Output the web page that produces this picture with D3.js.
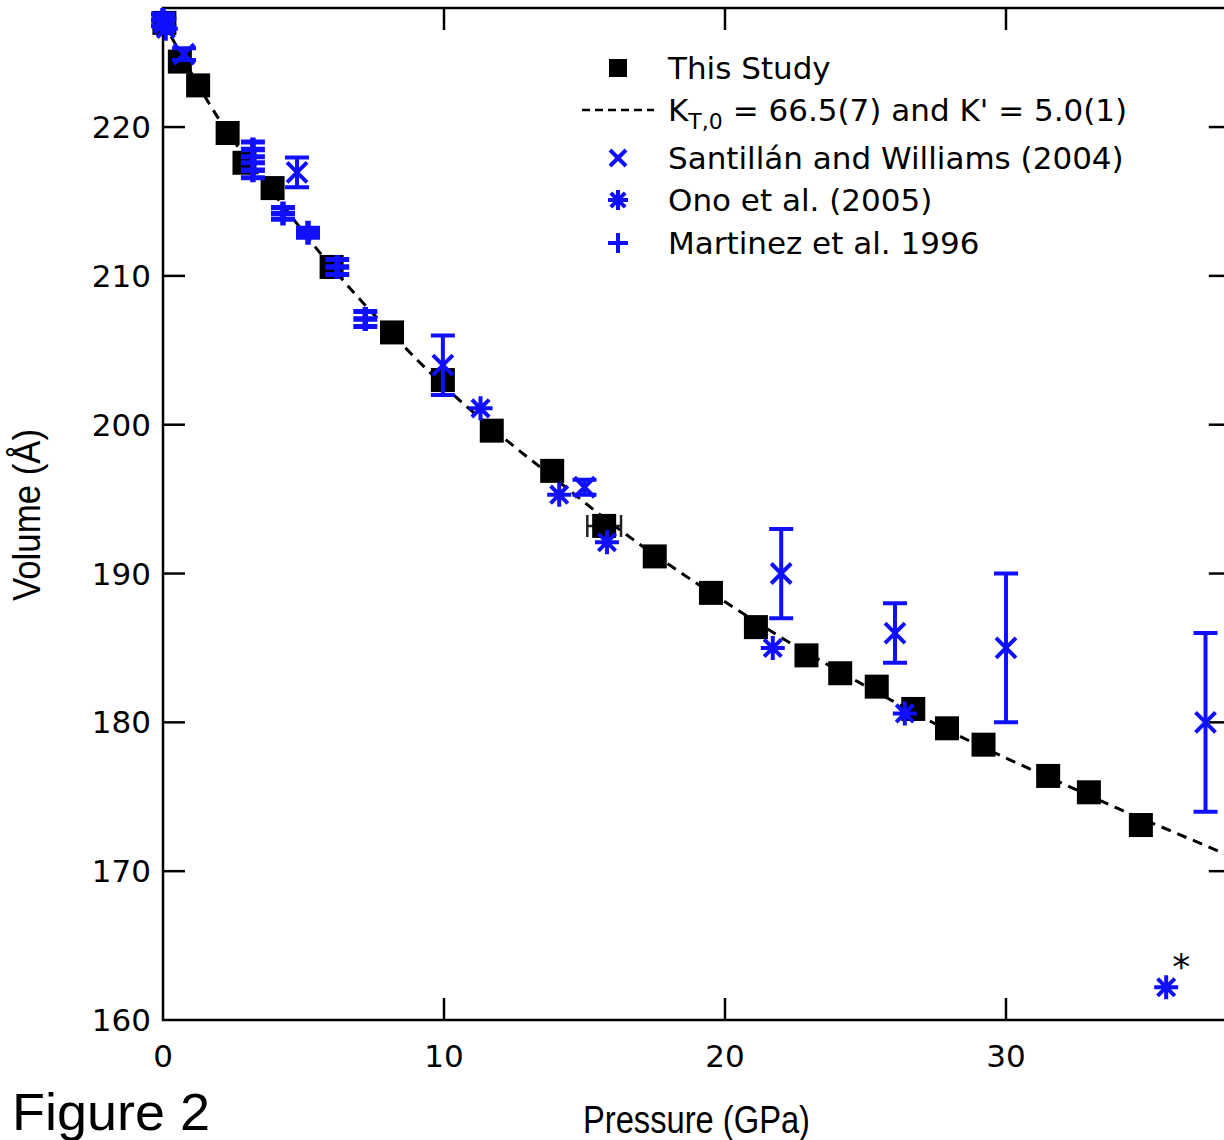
<!DOCTYPE html>
<html>
<head>
<meta charset="utf-8">
<script src="https://cdn.jsdelivr.net/npm/d3@7"></script>
<style>
  body { margin: 0; background: #fff; }
  svg { display: block; }
</style>
</head>
<body>
<div class="chart"></div>
<script>
var svgWidth = 1224;
var svgHeight = 1140;

// This study (black squares)
var studyP = [0.05, 0.6, 1.25, 2.3, 2.9, 3.9, 6.0, 8.15, 9.96, 11.7, 13.85, 15.7, 17.5, 19.5, 21.1, 22.9, 24.1, 25.4, 26.7, 27.9, 29.2, 31.5, 32.95, 34.8];
var studyV = [227.0, 224.4, 222.8, 219.6, 217.6, 215.9, 210.6, 206.2, 203.0, 199.6, 196.9, 193.2, 191.15, 188.7, 186.4, 184.5, 183.3, 182.4, 180.9, 179.6, 178.5, 176.4, 175.3, 173.1];
var studyPErr = [0, 0, 0, 0, 0, 0, 0, 0, 0, 0, 0, 0.6, 0, 0, 0, 0, 0, 0, 0, 0, 0, 0, 0, 0];

// Fit curve
var fitP = [0, 2, 4, 6, 8, 10, 12, 14, 16, 18, 20, 22, 24, 26, 28, 30, 32, 34, 36, 38];
var fitV = [227.1, 220.5, 215.4, 210.6, 206.4, 202.6, 199.3, 196.3, 193.3, 190.6, 188.1, 185.7, 183.5, 181.4, 179.4, 177.6, 175.9, 174.2, 172.6, 171.0];

// Santillan and Williams (2004)
var santP = [0.05, 0.75, 4.77, 9.96, 15.0, 22.0, 26.05, 30.0, 37.1];
var santV = [227.0, 224.9, 216.95, 204.0, 195.8, 190.0, 186.0, 185.0, 180.0];
var santErr = [0.3, 0.4, 1.0, 2.0, 0.5, 3.0, 2.0, 5.0, 6.0];

// Ono et al. (2005)
var onoP = [0.1, 11.3, 14.1, 15.8, 21.7, 26.4, 35.7];
var onoV = [226.6, 201.1, 195.3, 192.1, 185.0, 180.6, 162.2];

// Martinez et al. 1996
var martP = [0.0, 3.2, 3.2, 4.27, 5.16, 6.2, 7.2];
var martV = [227.2, 218.5, 217.1, 214.2, 212.9, 210.6, 207.1];
var martErr = [0.4, 0.5, 0.5, 0.4, 0.3, 0.5, 0.5];

var xTicks = [0, 10, 20, 30];
var yTicks = [160, 170, 180, 190, 200, 210, 220];

var legendLabels = ["This Study", "fit", "Santillán and Williams (2004)", "Ono et al. (2005)", "Martinez et al. 1996"];

var blue = "#1010ff";

var svg = d3.select(".chart")
  .append("svg")
  .attr("width", svgWidth)
  .attr("height", svgHeight);

var x = d3.scaleLinear().domain([0, 38]).range([163, 163 + 38 * 28.1]);
var y = d3.scaleLinear().domain([160, 228]).range([1020, 8]);

// frame
var frame = svg.append("g").attr("stroke", "#000").attr("stroke-width", 2.5).attr("fill", "none");
frame.append("rect")
  .attr("x", x(0)).attr("y", y(228))
  .attr("width", x(38) - x(0)).attr("height", y(160) - y(228));

// ticks (inside)
xTicks.forEach(function(t) {
  if (t === 0) return;
  frame.append("line").attr("x1", x(t)).attr("x2", x(t)).attr("y1", y(160)).attr("y2", y(160) - 22);
  frame.append("line").attr("x1", x(t)).attr("x2", x(t)).attr("y1", y(228)).attr("y2", y(228) + 22);
});
yTicks.forEach(function(t) {
  if (t === 160) return;
  frame.append("line").attr("x1", x(0)).attr("x2", x(0) + 22).attr("y1", y(t)).attr("y2", y(t));
  frame.append("line").attr("x1", x(38)).attr("x2", x(38) - 22).attr("y1", y(t)).attr("y2", y(t));
});

// tick labels
svg.selectAll(".xlab").data(xTicks).enter().append("text")
  .attr("x", d => x(d)).attr("y", 1067)
  .attr("text-anchor", "middle")
  .style("font-family", "DejaVu Sans")
  .style("font-size", "31px")
  .text(d => d);

svg.selectAll(".ylab").data(yTicks).enter().append("text")
  .attr("x", 151).attr("y", d => y(d) + 11)
  .attr("text-anchor", "end")
  .style("font-family", "DejaVu Sans")
  .style("font-size", "31px")
  .text(d => d);

// axis titles
svg.append("text")
  .attr("transform", "translate(40, 515) rotate(-90)")
  .attr("text-anchor", "middle")
  .attr("textLength", 172)
  .attr("lengthAdjust", "spacingAndGlyphs")
  .style("font-family", "Liberation Sans")
  .style("font-size", "38px")
  .text("Volume (Å)");

svg.append("text")
  .attr("x", 583).attr("y", 1133)
  .attr("textLength", 227)
  .attr("lengthAdjust", "spacingAndGlyphs")
  .style("font-family", "Liberation Sans")
  .style("font-size", "38px")
  .text("Pressure (GPa)");

svg.append("text")
  .attr("x", 12).attr("y", 1130)
  .attr("textLength", 198)
  .attr("lengthAdjust", "spacingAndGlyphs")
  .style("font-family", "Liberation Sans")
  .style("font-size", "52px")
  .text("Figure 2");

// fit line
var line = d3.line().x((d, i) => x(fitP[i])).y(d => y(d)).curve(d3.curveMonotoneX);
svg.append("path")
  .attr("d", line(fitV))
  .attr("fill", "none")
  .attr("stroke", "#000")
  .attr("stroke-width", 3)
  .attr("stroke-dasharray", "10,7");

// marker helpers
function cross(g, cx, cy, r, sw) {
  g.append("path")
    .attr("d", `M${cx - r},${cy - r}L${cx + r},${cy + r}M${cx - r},${cy + r}L${cx + r},${cy - r}`)
    .attr("stroke", blue).attr("stroke-width", sw).attr("fill", "none");
}
function plus(g, cx, cy, r, sw) {
  g.append("path")
    .attr("d", `M${cx - r},${cy}L${cx + r},${cy}M${cx},${cy - r}L${cx},${cy + r}`)
    .attr("stroke", blue).attr("stroke-width", sw).attr("fill", "none");
}
function star(g, cx, cy, r, sw) {
  var d = r * 0.72;
  g.append("path")
    .attr("d", `M${cx},${cy - r}L${cx},${cy + r}M${cx - r},${cy}L${cx + r},${cy}` +
               `M${cx - d},${cy - d}L${cx + d},${cy + d}M${cx - d},${cy + d}L${cx + d},${cy - d}`)
    .attr("stroke", blue).attr("stroke-width", sw).attr("fill", "none");
}
function vbar(g, cx, v, e, color, sw) {
  var y0 = y(v - e), y1 = y(v + e);
  g.append("path")
    .attr("d", `M${cx},${y0}L${cx},${y1}M${cx - 12},${y0}L${cx + 12},${y0}M${cx - 12},${y1}L${cx + 12},${y1}`)
    .attr("stroke", color).attr("stroke-width", sw).attr("fill", "none");
}

var marks = svg.append("g");

// black squares + horizontal error bar
studyP.forEach(function(p, i) {
  if (studyPErr[i] > 0) {
    var x0 = x(p - studyPErr[i]), x1 = x(p + studyPErr[i]), cy = y(studyV[i]);
    marks.append("path")
      .attr("d", `M${x0},${cy}L${x1},${cy}M${x0},${cy - 11}L${x0},${cy + 11}M${x1},${cy - 11}L${x1},${cy + 11}`)
      .attr("stroke", "#222").attr("stroke-width", 2.5).attr("fill", "none");
  }
  marks.append("rect")
    .attr("x", x(p) - 12).attr("y", y(studyV[i]) - 12)
    .attr("width", 24).attr("height", 24)
    .attr("fill", "#000");
});

martP.forEach(function(p, i) {
  vbar(marks, x(p), martV[i], martErr[i], blue, 5);
  plus(marks, x(p), y(martV[i]), 12, 5.5);
});

santP.forEach(function(p, i) {
  vbar(marks, x(p), santV[i], santErr[i], blue, 4);
  cross(marks, x(p), y(santV[i]), 10, 4);
});

onoP.forEach(function(p, i) {
  star(marks, x(p), y(onoV[i]), 12, 4);
});

// black asterisk note by the last Ono point
svg.append("text")
  .attr("x", x(onoP[onoP.length - 1]) + 6).attr("y", y(onoV[onoV.length - 1]) - 8)
  .style("font-family", "DejaVu Sans")
  .style("font-size", "36px")
  .text("*");

// legend
var lg = svg.append("g");
var rows = [68, 110, 158, 200, 243];
var lx = 618;
lg.append("rect").attr("x", lx - 9).attr("y", rows[0] - 9).attr("width", 18).attr("height", 18).attr("fill", "#000");
lg.append("line").attr("x1", 582).attr("x2", 654).attr("y1", rows[1]).attr("y2", rows[1])
  .attr("stroke", "#000").attr("stroke-width", 2.5).attr("stroke-dasharray", "8,5");
cross(lg, lx, rows[2], 8, 4);
star(lg, lx, rows[3], 10, 4);
plus(lg, lx, rows[4], 10, 4);

[0, 2, 3, 4].forEach(function(i) {
  lg.append("text")
    .attr("x", 668).attr("y", rows[i] + 11)
    .style("font-family", "DejaVu Sans")
    .style("font-size", "31px")
    .text(legendLabels[i]);
});

var kt = lg.append("text")
  .attr("x", 668).attr("y", rows[1] + 11)
  .style("font-family", "DejaVu Sans")
  .style("font-size", "31px");
kt.append("tspan").text("K");
kt.append("tspan").attr("dy", 8).style("font-size", "22px").text("T,0");
kt.append("tspan").attr("dy", -8).text(" = 66.5(7) and K' = 5.0(1)");
</script>
</body>
</html>
